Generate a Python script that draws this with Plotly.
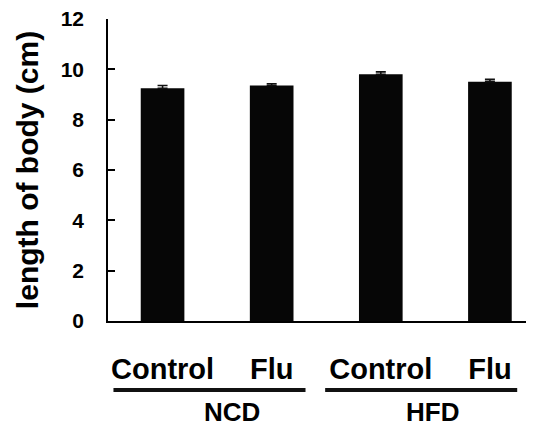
import plotly.graph_objects as go

# Data
categories = ["Control", "Flu", "Control", "Flu"]
values = [9.25, 9.36, 9.80, 9.51]
errors = [0.11, 0.07, 0.10, 0.09]
groups = ["NCD", "HFD"]
group_members = [[0, 1], [2, 3]]
y_ticks = [0, 2, 4, 6, 8, 10, 12]

x_idx = list(range(len(categories)))
FONT = "Liberation Sans, Arial, sans-serif"

fig = go.Figure()
fig.add_trace(go.Bar(
    x=x_idx, y=values,
    marker=dict(color="#060606", line=dict(width=0)),
    width=0.40,
    error_y=dict(type="data", array=errors, arrayminus=[0]*len(errors), symmetric=False,
                 color="#111111", thickness=1.6, width=5),
    showlegend=False,
))

# group underline bars and labels (style offsets relative to group centre)
line_left = [0.95, 1.01]
line_right = [0.81, 0.75]
label_shift = [0.14, -0.03]
for gi, (g, mem) in enumerate(zip(groups, group_members)):
    c = sum(mem) / len(mem)
    fig.add_shape(type="line", xref="x", yref="paper",
                  x0=c - line_left[gi], x1=c + line_right[gi], y0=-0.2285, y1=-0.2285,
                  line=dict(color="#111111", width=4))
    fig.add_annotation(x=c + label_shift[gi], y=-0.3013, xref="x", yref="paper",
                       text=g, showarrow=False, yanchor="middle", xanchor="center",
                       borderpad=0,
                       font=dict(family=FONT, size=26, color="#000", weight="bold"))

fig.update_layout(
    width=526, height=421,
    margin=dict(l=100, r=0, t=11, b=108, autoexpand=False),
    plot_bgcolor="white", paper_bgcolor="white",
    xaxis=dict(
        range=[-0.5, 3.404], tickmode="array", tickvals=x_idx, ticktext=categories,
        showline=True, linecolor="#000", linewidth=1.5, ticks="", showgrid=False,
        zeroline=False, ticklabelstandoff=21, automargin=False,
        tickfont=dict(family=FONT, size=29, color="#000", weight="bold"),
    ),
    yaxis=dict(
        range=[0, 12], tickmode="array", tickvals=y_ticks,
        showline=True, linecolor="#000", linewidth=1.5, ticks="inside", ticklen=7,
        tickwidth=1.5, tickcolor="#000", showgrid=False, zeroline=False,
        ticklabelstandoff=18, automargin=False, ticklabeloverflow="allow",
        tickfont=dict(family=FONT, size=21, color="#000", weight="bold"),
        title=dict(text="length of body (cm)", standoff=13,
                   font=dict(family=FONT, size=30, color="#000", weight="bold")),
    ),
)

fig.write_html("out.html")
